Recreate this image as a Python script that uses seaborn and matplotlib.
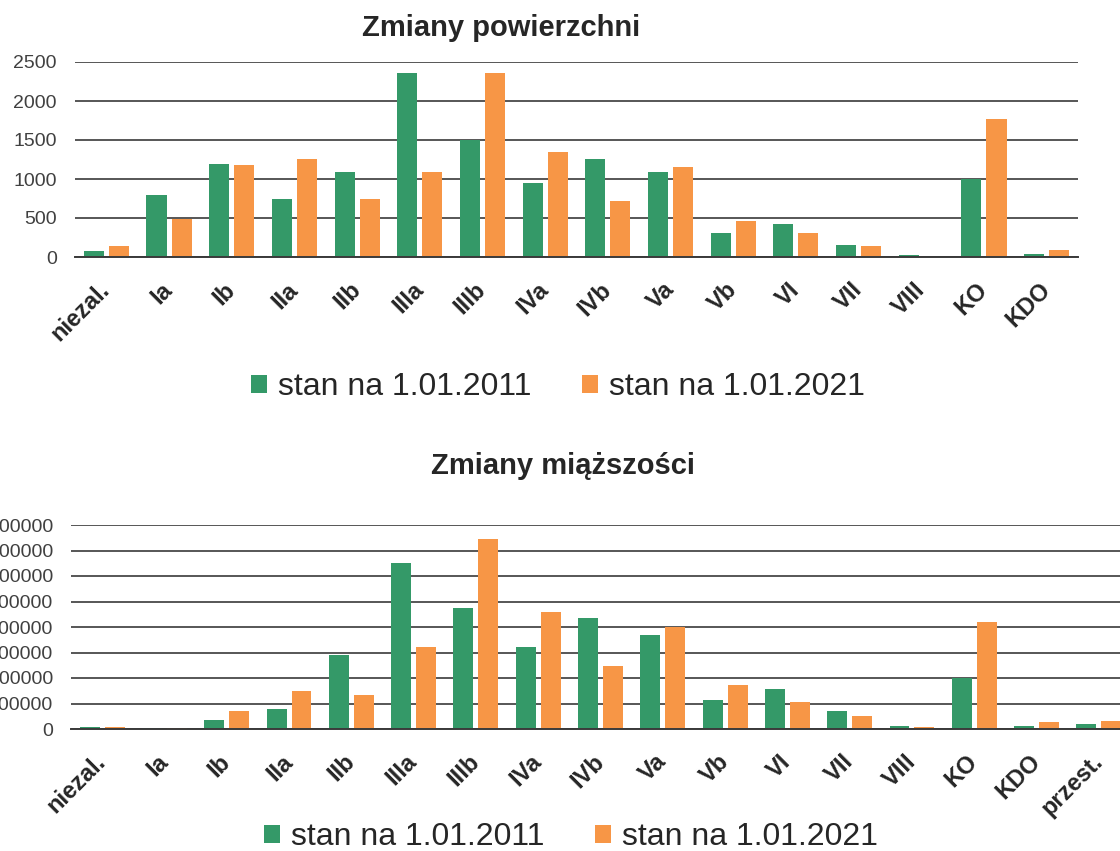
import pandas as pd
import matplotlib.pyplot as plt
import seaborn as sns
from matplotlib.patches import Patch
from matplotlib.ticker import FuncFormatter

# dane
klasy_pow = ["niezal.", "Ia", "Ib", "IIa", "IIb", "IIIa", "IIIb", "IVa",
             "IVb", "Va", "Vb", "VI", "VII", "VIII", "KO", "KDO"]
pow_2011 = [73, 799, 1192, 748, 1094, 2359, 1496, 944,
            1256, 1094, 303, 419, 158, 30, 996, 43]
pow_2021 = [141, 491, 1175, 1261, 748, 1094, 2359, 1342,
            714, 1158, 466, 303, 141, 0, 1769, 94]

klasy_mia = klasy_pow + ["przest."]
mia_2011 = [6000, 5000, 36600, 77100, 288900, 649700, 474500, 322900,
            434000, 369900, 112400, 158200, 71900, 11800, 200000, 11800, 18300]
mia_2021 = [6000, 5000, 71900, 147700, 132000, 322900, 746400, 460100,
            248400, 398700, 173900, 107200, 52300, 6500, 419600, 27500, 32700]

serie = ["stan na 1.01.2011", "stan na 1.01.2021"]
kolory = ["#349968", "#f79646"]


def long_df(klasy, a, b):
    df = pd.DataFrame({"klasa": klasy, serie[0]: a, serie[1]: b})
    return df.melt(id_vars="klasa", var_name="stan", value_name="wartosc")


def draw(ax, df, ymax, step):
    sns.barplot(data=df, x="klasa", y="wartosc", hue="stan", palette=kolory,
                saturation=1, width=0.8, gap=0.2, edgecolor="none",
                legend=False, ax=ax)
    ax.set_ylim(0, ymax)
    ax.set_yticks(range(0, ymax + 1, step))
    ax.yaxis.set_major_formatter(FuncFormatter(lambda v, p: f"{v:.0f}"))
    ax.grid(axis="y", color="#3a3a3a", linewidth=1.2)
    ax.set_axisbelow(True)
    for s in ["left", "right", "top"]:
        ax.spines[s].set_visible(False)
    ax.spines["bottom"].set_color("#3a3a3a")
    ax.spines["bottom"].set_linewidth(1.4)
    ax.tick_params(axis="both", length=0)
    ax.tick_params(axis="y", pad=13, labelsize=14, labelcolor="#404040")
    ax.tick_params(axis="x", pad=21)
    ax.set_xlabel("")
    ax.set_ylabel("")
    for lab in ax.get_xticklabels():
        lab.set_rotation(45)
        lab.set_ha("right")
        lab.set_va("center")
        lab.set_rotation_mode("anchor")
        lab.set_fontweight("bold")
        lab.set_fontsize(17)


sns.set_theme(style="white")
plt.rcParams["font.family"] = ["Liberation Sans", "DejaVu Sans"]

fig = plt.figure(figsize=(11.2, 8.51), dpi=100)

ax1 = fig.add_axes([75 / 1120, 1 - 257 / 851, 1003 / 1120, 195 / 851])
draw(ax1, long_df(klasy_pow, pow_2011, pow_2021), 2500, 500)

ax2 = fig.add_axes([71 / 1120, 1 - 729 / 851, 1059 / 1120, 204 / 851])
draw(ax2, long_df(klasy_mia, mia_2011, mia_2021), 800000, 100000)

fig.text(501 / 1120, 1 - 28 / 851, "Zmiany powierzchni", ha="center",
         va="center", fontsize=21, fontweight="bold")
fig.text(563 / 1120, 1 - 466 / 851, "Zmiany miąższości", ha="center",
         va="center", fontsize=21, fontweight="bold")

uchwyty = [Patch(facecolor=k, edgecolor="none") for k in kolory]
for y, x in [(387, 558), (837, 571)]:
    fig.legend(uchwyty, serie, loc="center", ncol=2, frameon=False,
               bbox_to_anchor=(x / 1120, 1 - y / 851), fontsize=23,
               handlelength=0.5, handleheight=0.5, handletextpad=0.35,
               columnspacing=1.6)

fig.savefig("out.png", dpi=100)
